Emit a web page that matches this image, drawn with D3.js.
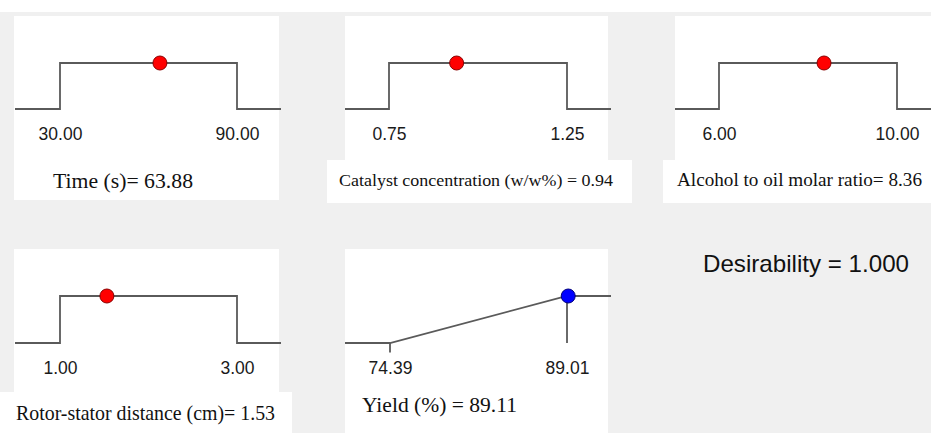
<!DOCTYPE html>
<html lang="en">
  <head>
    <meta charset="utf-8">
    <title>Desirability ramps</title>
    <script type="text/javascript" src="https://cdn.jsdelivr.net/npm/d3@7"></script>
    <style>
      body { margin: 0; background: #f0f0f0; }
      .tick text {
        font-family: "Liberation Sans", Arial, sans-serif;
        font-size: 17.5px;
        fill: #1a1a1a;
      }
      .caption {
        font-family: "Liberation Serif", "Times New Roman", serif;
        fill: #111;
      }
      .desir {
        font-family: "Liberation Sans", Arial, sans-serif;
        font-size: 24px;
        fill: #111;
      }
    </style>
  </head>
  <body>
    <script>

        var w = 931;
        var h = 433;

        // data
        var factorNames = ["Time (s)", "Catalyst concentration (w/w%)", "Alcohol to oil molar ratio",
                           "Rotor-stator distance (cm)", "Yield (%)"];
        var lows = [30, 0.75, 6, 1, 74.39];
        var highs = [90, 1.25, 10, 3, 89.01];
        var values = [63.88, 0.94, 8.36, 1.53, 89.11];
        var goals = ["range", "range", "range", "range", "maximize"];
        var tickLabels = [["30.00", "90.00"], ["0.75", "1.25"], ["6.00", "10.00"],
                          ["1.00", "3.00"], ["74.39", "89.01"]];
        var captions = ["Time (s)= 63.88", "Catalyst concentration (w/w%) = 0.94",
                        "Alcohol to oil molar ratio= 8.36", "Rotor-stator distance (cm)= 1.53",
                        "Yield (%) = 89.11"];
        var desirability = 1.000;

        // panel layout (pixels)
        var layout = [
          { box: [14, 16, 265, 184], cap: null, lineX: [15, 281], stepX: [60, 237], yLo: 109, yHi: 63,
            capX: 53, capY: 188, capSize: 21, capLen: 140 },
          { box: [345, 16, 263, 144], cap: [327, 160, 305, 43], lineX: [345, 611], stepX: [389, 567], yLo: 109, yHi: 63,
            capX: 339, capY: 186, capSize: 16, capLen: 274 },
          { box: [675, 16, 256, 144], cap: [663, 160, 268, 43], lineX: [675, 940], stepX: [719, 897], yLo: 109, yHi: 63,
            capX: 677, capY: 186, capSize: 19.5, capLen: 245 },
          { box: [14, 249, 265, 143], cap: [0, 392, 292, 41], lineX: [15, 281], stepX: [60, 237], yLo: 343, yHi: 296,
            capX: 16, capY: 420, capSize: 21, capLen: 259 },
          { box: [345, 249, 263, 184], cap: null, lineX: [345, 611], stepX: [390, 567], yLo: 343, yHi: 296,
            capX: 362, capY: 412, capSize: 21, capLen: 155 }
        ];

        var mySvg = d3.select("body")
                      .append("svg")
                      .attr("width", w)
                      .attr("height", h);

        mySvg.append("rect")
             .attr("width", w)
             .attr("height", 12)
             .attr("fill", "white");

        values.forEach(function(v, i) {
          var L = layout[i];
          var g = mySvg.append("g");

          g.append("rect")
           .attr("x", L.box[0]).attr("y", L.box[1])
           .attr("width", L.box[2]).attr("height", L.box[3])
           .attr("fill", "white");
          if (L.cap) {
            g.append("rect")
             .attr("x", L.cap[0]).attr("y", L.cap[1])
             .attr("width", L.cap[2]).attr("height", L.cap[3])
             .attr("fill", "white");
          }

          var xScale = d3.scaleLinear()
                         .domain([lows[i], highs[i]])
                         .range(L.stepX);
          var yScale = d3.scaleLinear()
                         .domain([0, 1])
                         .range([L.yLo, L.yHi]);

          var left = xScale.invert(L.lineX[0]);
          var right = xScale.invert(L.lineX[1]);
          var pts;
          if (goals[i] === "range") {
            pts = [[left, 0], [lows[i], 0], [lows[i], 1], [highs[i], 1], [highs[i], 0], [right, 0]];
          } else {
            pts = [[left, 0], [lows[i], 0], [highs[i], 1], [right, 1]];
          }

          var line = d3.line()
                       .x(function(d) { return xScale(d[0]); })
                       .y(function(d) { return yScale(d[1]); });

          g.append("path")
           .attr("d", line(pts))
           .attr("fill", "none")
           .attr("stroke", "#5a5a5a")
           .attr("stroke-width", 1.8);

          if (goals[i] === "maximize") {
            // drop line at the upper limit and small tick at the lower one
            g.append("path")
             .attr("d", line([[highs[i], 1], [highs[i], 0]]))
             .attr("stroke", "#5a5a5a").attr("stroke-width", 1.8);
            g.append("path")
             .attr("d", line([[lows[i], 0], [lows[i], -0.2]]))
             .attr("stroke", "#5a5a5a").attr("stroke-width", 1.8);
          }

          var axis = d3.axisBottom(xScale)
                       .tickValues([lows[i], highs[i]])
                       .tickFormat(function(d, k) { return tickLabels[i][k]; })
                       .tickSize(0)
                       .tickPadding(19);
          g.append("g")
           .attr("transform", "translate(0," + L.yLo + ")")
           .call(axis)
           .call(function(a) { a.select(".domain").remove(); })
           .selectAll("text")
           .attr("font-family", null)
           .attr("font-size", null);

          g.append("circle")
           .attr("cx", xScale(v))
           .attr("cy", yScale(1))
           .attr("r", 7)
           .attr("fill", goals[i] === "maximize" ? "#0000ff" : "#ff0000")
           .attr("stroke", goals[i] === "maximize" ? "#00007a" : "#8a0000")
           .attr("stroke-width", 1);

          g.append("text")
           .attr("class", "caption")
           .attr("x", L.capX)
           .attr("y", L.capY)
           .attr("font-size", L.capSize)
           .attr("textLength", L.capLen)
           .attr("lengthAdjust", "spacingAndGlyphs")
           .text(captions[i]);
        });

        mySvg.append("text")
             .attr("class", "desir")
             .attr("x", 703)
             .attr("y", 272)
             .attr("textLength", 206)
             .attr("lengthAdjust", "spacingAndGlyphs")
             .text("Desirability = " + desirability.toFixed(3));

    </script>
  </body>
</html>
